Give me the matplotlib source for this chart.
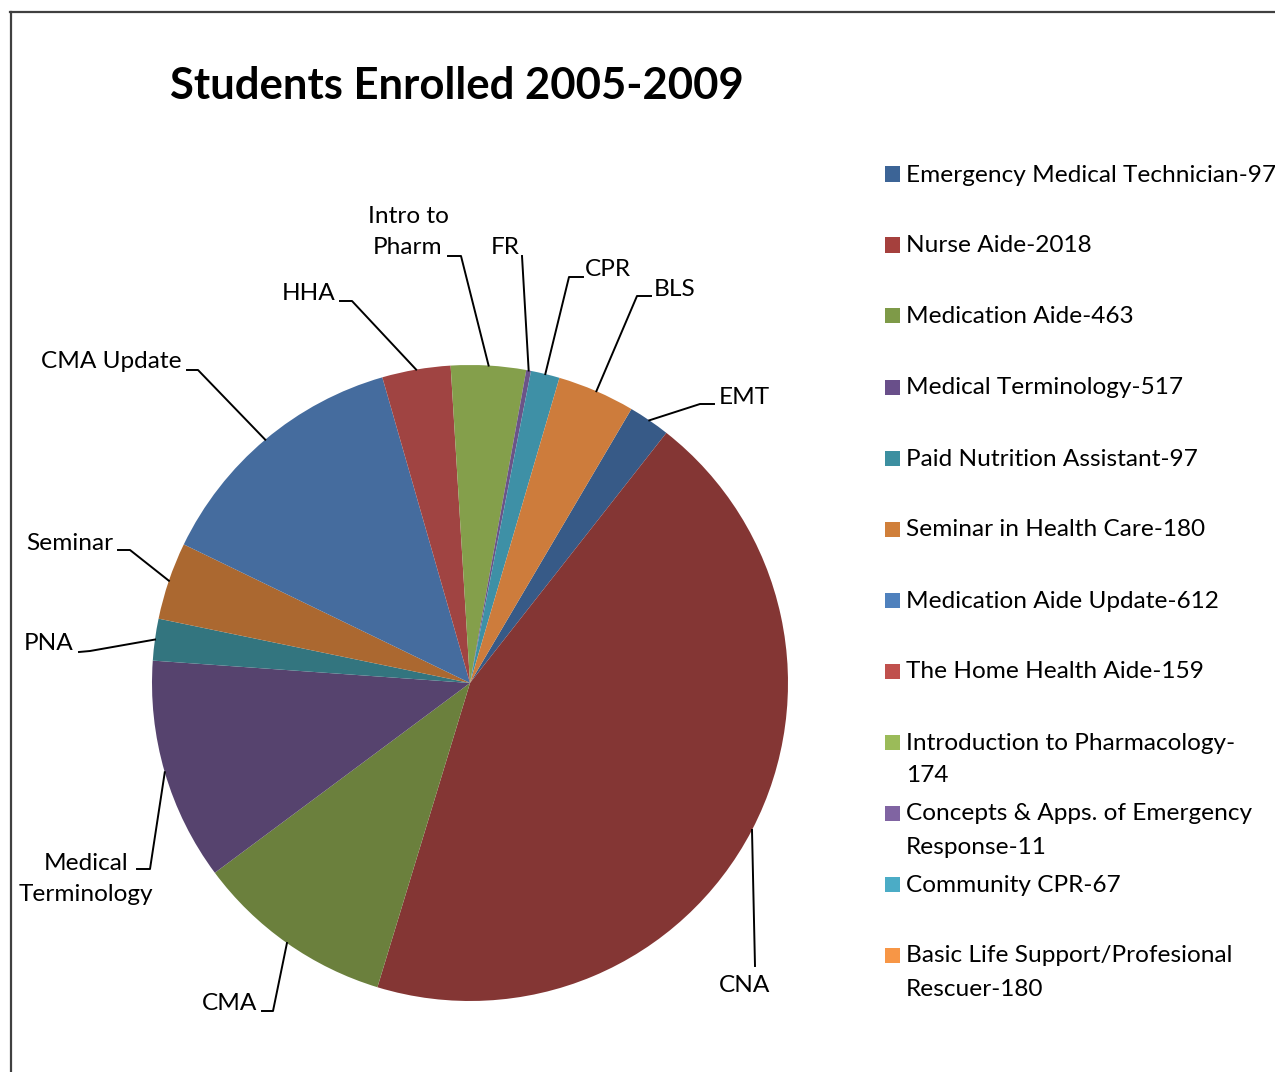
import matplotlib
matplotlib.use('Agg')
import matplotlib.pyplot as plt
import numpy as np
from matplotlib.lines import Line2D
from matplotlib.patches import Rectangle

# ---- data ----
title = 'Students Enrolled 2005-2009'
short_labels = ['EMT', 'CNA', 'CMA', 'Medical\nTerminology', 'PNA', 'Seminar',
                'CMA Update', 'HHA', 'Intro to\nPharm', 'FR', 'CPR', 'BLS']
legend_labels = ['Emergency Medical Technician-97', 'Nurse Aide-2018',
                 'Medication Aide-463', 'Medical Terminology-517',
                 'Paid Nutrition Assistant-97', 'Seminar in Health Care-180',
                 'Medication Aide Update-612', 'The Home Health Aide-159',
                 'Introduction to Pharmacology-\n174',
                 'Concepts & Apps. of Emergency\nResponse-11',
                 'Community CPR-67',
                 'Basic Life Support/Profesional\nRescuer-180']
enrolled = [97, 2018, 463, 517, 97, 180, 612, 159, 174, 11, 67, 180]

# ---- styles ----
slice_colors = ['#375A87', '#843634', '#6B803D', '#56436E', '#33757F', '#AB6830',
                '#456C9E', '#A04442', '#849F4B', '#6B5488', '#3E90A6', '#CD7C3C']
legend_colors = ['#3C6496', '#A5403D', '#7E9A48', '#694F8A', '#3C8FA0', '#D07F3A',
                 '#4F81BD', '#C0504D', '#9BBB59', '#8064A2', '#4BACC6', '#F79646']
FONT = 'Lato'
plt.rcParams['font.family'] = [FONT, 'DejaVu Sans']
FS = 17.6

W, H = 1275, 1072
fig = plt.figure(figsize=(W / 100, H / 100), dpi=100)
fig.patch.set_facecolor('white')

CX, CY, R = 470, 683, 318
ax = fig.add_axes([(CX - R) / W, (H - (CY + R)) / H, 2 * R / W, 2 * R / H])
wedges, _ = ax.pie(enrolled, colors=slice_colors, startangle=59.5, counterclock=False,
                   radius=1, wedgeprops=dict(linewidth=0))
ax.set_xlim(-1, 1)
ax.set_ylim(-1, 1)
ax.set_aspect('equal')
ax.axis('off')


def px(x, y):
    return (x - CX) / R, (CY - y) / R


# label layout in pixel coordinates: text anchor, alignment, leader path points
label_layout = [
    ((719, 397), 'left', [(714, 404), (700, 404)]),
    ((745, 985), 'center', [(755, 966)]),
    ((257, 1004), 'right', [(262, 1011), (273, 1011)]),
    ((86, 879), 'center', [(137, 869), (150, 869)]),
    ((74, 644), 'right', [(79, 652), (90, 651)]),
    ((113, 543), 'right', [(118, 550), (130, 550)]),
    ((182, 362), 'right', [(187, 370), (198, 370)]),
    ((335, 294), 'right', [(340, 301), (352, 301)]),
    ((408, 232), 'center', [(448, 256), (461, 256)]),
    ((505, 247), 'center', [(522, 256)]),
    ((585, 270), 'left', [(583, 277), (569, 277)]),
    ((654, 289), 'left', [(651, 296), (637, 296)]),
]

for w, lab, (txy, ha, path) in zip(wedges, short_labels, label_layout):
    mid = np.deg2rad((w.theta1 + w.theta2) / 2)
    edge = (np.cos(mid), np.sin(mid))
    pts = [px(*p) for p in path] + [edge]
    xs, ys = zip(*pts)
    ax.add_line(Line2D(xs, ys, color='black', lw=1.4, clip_on=False))
    tx, ty = px(*txy)
    ax.text(tx, ty, lab, ha=ha, va='center', fontsize=FS, ma='center',
            linespacing=1.6, clip_on=False)

# title
fig.text(170 / W, 1 - 86 / H, title, ha='left', va='center', fontsize=31.4,
         fontweight='bold')

# legend (manual)
for i, (lab, col) in enumerate(zip(legend_labels, legend_colors)):
    y = 174 + 71 * i
    fig.add_artist(Rectangle((885 / W, 1 - (y + 7.5) / H), 15 / W, 15 / H,
                             transform=fig.transFigure, facecolor=col, edgecolor='none'))
    for j, line in enumerate(lab.split('\n')):
        fig.text(906 / W, 1 - (y + 1 + 33 * j) / H, line, ha='left', va='center',
                 fontsize=FS)

# frame
fig.add_artist(Line2D([10.5 / W, 10.5 / W], [0, 1 - 12 / H], color='#404040', lw=1.6,
                      transform=fig.transFigure))
fig.add_artist(Line2D([10 / W, 1], [1 - 12 / H, 1 - 12 / H], color='#404040', lw=1.6,
                      transform=fig.transFigure))

fig.savefig('out.png', dpi=100, facecolor='white')
